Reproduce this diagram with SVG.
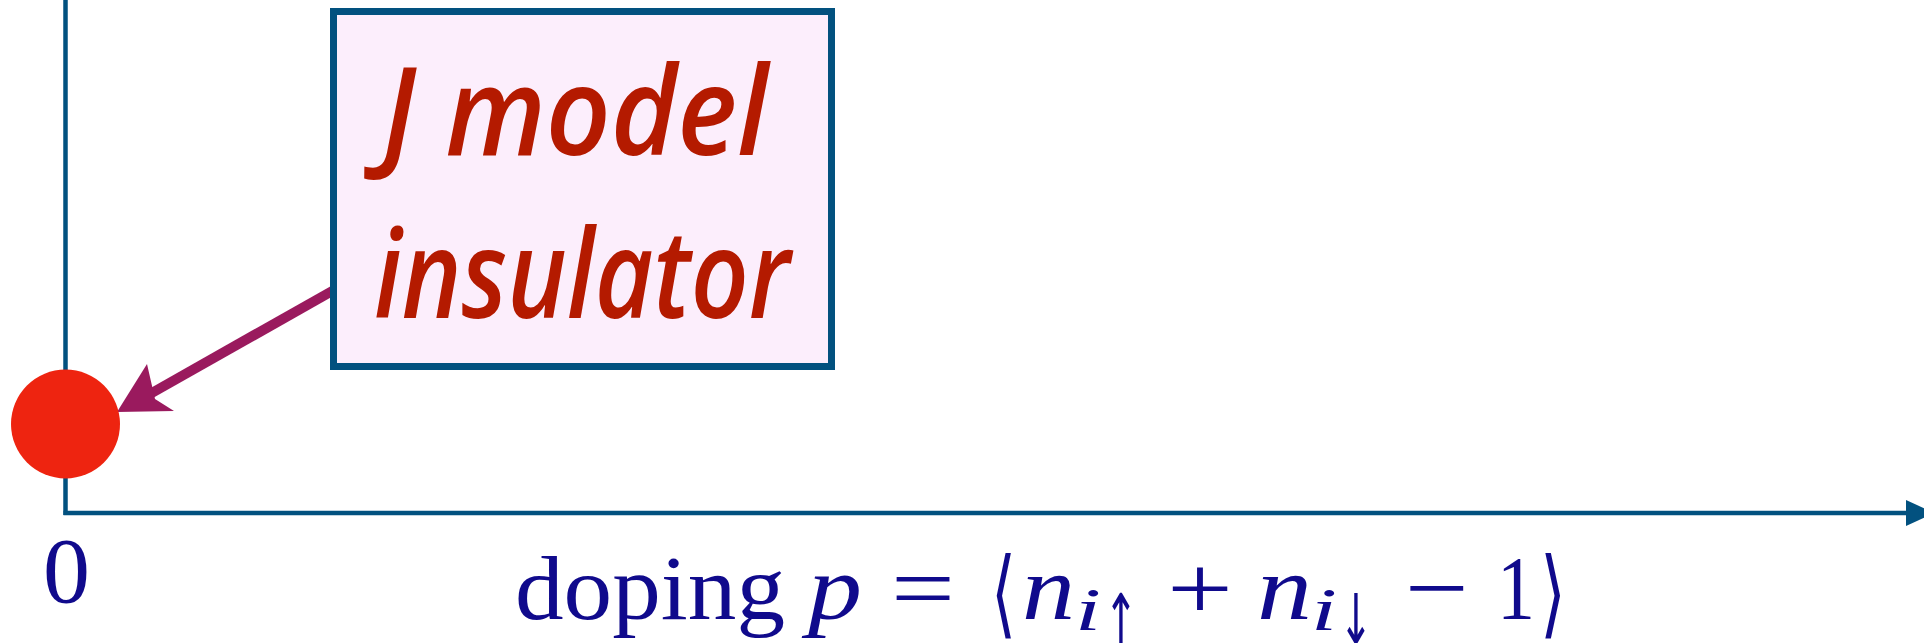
<svg xmlns="http://www.w3.org/2000/svg" width="1924" height="643" viewBox="0 0 1924 643">
<style>
.axis{stroke:#02517F;stroke-width:4.5;fill:none}
.math{font-family:"Liberation Serif","DejaVu Serif",serif;fill:#100A8C}
.it{font-style:italic}
.arr{font-family:"DejaVu Sans",sans-serif;fill:#100A8C;font-size:70px}
.lbl{font-family:"Open Sans","Lato",sans-serif;font-style:italic;font-weight:600;fill:#B41A00;font-size:124px}
</style>
<rect width="1924" height="643" fill="#FFFFFF"/>
<g id="axes">
<line class="axis" x1="65.5" y1="0" x2="65.5" y2="515"/>
<line class="axis" x1="63.5" y1="513" x2="1910" y2="513"/>
<polygon points="1906,500 1906,526 1934,513" fill="#02517F"/>
</g>
<g id="connectors">
<line x1="334" y1="290" x2="150" y2="394" stroke="#9A1A5E" stroke-width="10"/>
<polygon points="117,412 147,364 155,399 174,411" fill="#9A1A5E"/>
</g>
<g id="point">
<circle cx="65.5" cy="424" r="54.5" fill="#EE2410"/>
</g>
<g id="label-box">
<rect x="333.5" y="11.5" width="498" height="355" fill="#FCEEFC" stroke="#02517F" stroke-width="7"/>
<text class="lbl" x="382" y="155" textLength="386" lengthAdjust="spacingAndGlyphs">J model</text>
<text class="lbl" x="374" y="318" textLength="416" lengthAdjust="spacingAndGlyphs">insulator</text>
</g>
<g id="axis-labels">
<text class="math" x="66.5" y="602" font-size="94" text-anchor="middle">0</text>
<text class="math" x="515" y="619" font-size="92" textLength="270" lengthAdjust="spacingAndGlyphs">doping</text>
<text class="math it" x="808" y="619" font-size="92" textLength="54" lengthAdjust="spacingAndGlyphs">p</text>
<text class="math" x="891" y="619" font-size="92" textLength="64" lengthAdjust="spacingAndGlyphs">=</text>
<text class="math" x="991" y="626" font-size="96" textLength="25" lengthAdjust="spacingAndGlyphs">⟨</text>
<text class="math it" x="1022" y="619" font-size="92" textLength="53" lengthAdjust="spacingAndGlyphs">n</text>
<text class="math it" x="1075" y="630" font-size="62" textLength="26" lengthAdjust="spacingAndGlyphs">i</text>
<text class="arr" x="1104" y="644" textLength="34" lengthAdjust="spacingAndGlyphs">↑</text>
<text class="math" x="1167" y="619" font-size="92" textLength="66" lengthAdjust="spacingAndGlyphs">+</text>
<text class="math it" x="1257" y="619" font-size="92" textLength="55" lengthAdjust="spacingAndGlyphs">n</text>
<text class="math it" x="1311" y="630" font-size="62" textLength="26" lengthAdjust="spacingAndGlyphs">i</text>
<text class="arr" x="1339" y="644" textLength="34" lengthAdjust="spacingAndGlyphs">↓</text>
<text class="math" x="1405" y="619" font-size="92" textLength="64" lengthAdjust="spacingAndGlyphs">−</text>
<text class="math" x="1497" y="619" font-size="92" textLength="38" lengthAdjust="spacingAndGlyphs">1</text>
<text class="math" x="1540" y="626" font-size="96" textLength="26" lengthAdjust="spacingAndGlyphs">⟩</text>
</g>
</svg>
